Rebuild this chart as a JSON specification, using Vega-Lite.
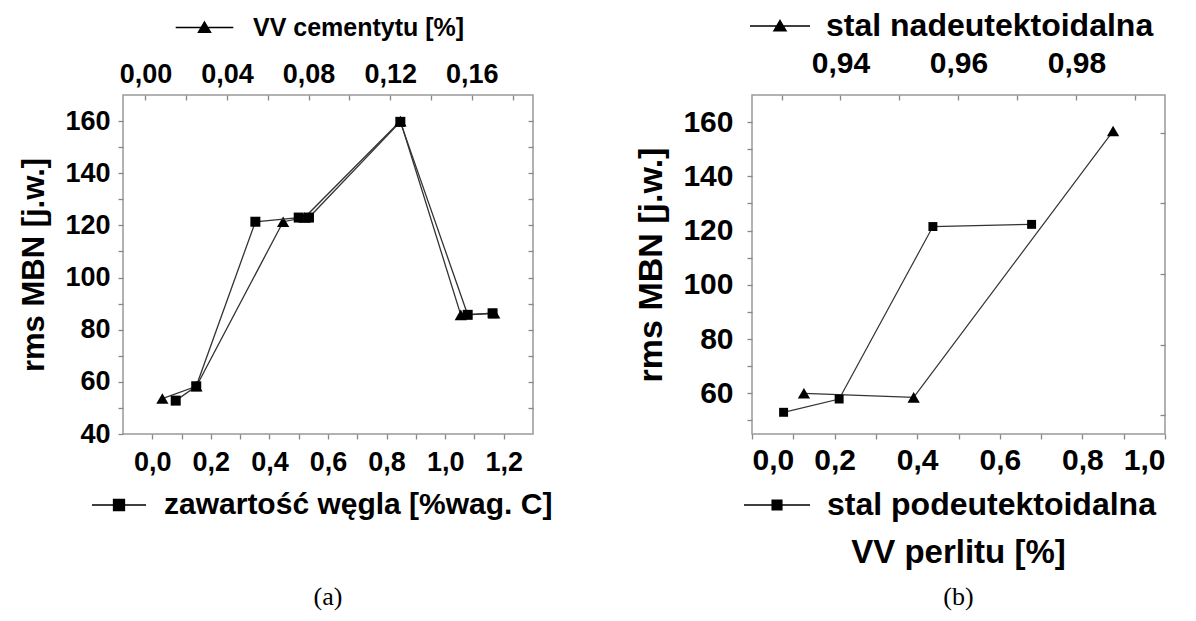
{
  "$schema": "https://vega.github.io/schema/vega-lite/v6.json",
  "background": "white",
  "padding": {"left": 18, "top": 9, "right": 5, "bottom": 5},
  "datasets": {
    "a_tri": [{"vc":0.0083,"rms":53.6},{"vc":0.025,"rms":58.3},{"vc":0.0675,"rms":121.4},{"vc":0.078,"rms":123},{"vc":0.125,"rms":160},{"vc":0.1546,"rms":85.7},{"vc":0.171,"rms":86.3}],
    "a_sq": [{"c":0.08,"rms":52.8},{"c":0.15,"rms":58.3},{"c":0.352,"rms":121.4},{"c":0.5,"rms":123},{"c":0.535,"rms":123},{"c":0.847,"rms":159.7},{"c":1.077,"rms":85.7},{"c":1.162,"rms":86.3}],
    "b_sq": [{"vp":0.0765,"rms":53},{"vp":0.211,"rms":57.9},{"vp":0.438,"rms":121.5},{"vp":0.677,"rms":122.3}],
    "b_tri": [{"vpt":0.9338,"rms":60},{"vpt":0.9524,"rms":58.5},{"vpt":0.9862,"rms":156.7}]
  },
  "bounds": "flush",
  "spacing": 219,
  "hconcat": [
    {
      "width": 410,
      "height": 339,
      "title": {"text": "(a)", "orient": "bottom", "anchor": "middle", "font": "Liberation Serif", "fontSize": 26, "fontWeight": "normal", "color": "black", "offset": 64},
      "layer": [
        {
          "data": {"name": "a_tri"},
          "encoding": {
            "x": {"field": "vc", "type": "quantitative", "scale": {"domain": [-0.011, 0.19], "nice": false, "zero": false},
              "axis": {"orient": "top", "title": null, "values": [0,0.02,0.04,0.06,0.08,0.1,0.12,0.14,0.16,0.18], "labelExpr": "round(datum.value*100) % 4 == 0 ? replace(format(datum.value, '.2f'), '.', ',') : ''", "tickSize": -5, "labelPadding": 12, "labelFontSize": 27, "labelOverlap": false, "domain": false}},
            "y": {"field": "rms", "type": "quantitative", "scale": {"domain": [40, 170], "nice": false, "zero": false},
              "axis": {"orient": "left", "title": "rms MBN [j.w.]", "titleFontSize": 31, "titlePadding": 14, "values": [40,50,60,70,80,90,100,110,120,130,140,150,160], "labelExpr": "datum.value % 20 == 0 ? datum.label : ''", "tickSize": 5, "labelPadding": 8, "labelFontSize": 27, "labelOverlap": false, "domain": false}}
          },
          "layer": [
            {"mark": {"type": "line", "color": "#333333", "strokeWidth": 1.3}},
            {"mark": {"type": "point", "filled": true, "size": 150, "opacity": 1},
              "encoding": {"color": {"datum": "VV cementytu [%]", "scale": {"range": ["black"]},
                "legend": {"orient": "top", "title": null, "labelFont": "Liberation Sans", "labelFontWeight": "bold", "labelFontSize": 25, "labelColor": "black", "labelLimit": 800, "symbolType": "M-4.8,0L4.8,0M0,-0.9L1,0.8L-1,0.8Z", "symbolSize": 144, "symbolStrokeColor": "black", "symbolFillColor": "black", "symbolStrokeWidth": 1.5, "labelOffset": 36, "offset": 19, "padding": 0}}}}
          ]
        },
        {
          "data": {"name": "a_sq"},
          "encoding": {
            "x": {"field": "c", "type": "quantitative", "scale": {"domain": [-0.1, 1.3], "nice": false, "zero": false},
              "axis": {"orient": "bottom", "title": null, "values": [0,0.1,0.2,0.3,0.4,0.5,0.6,0.7,0.8,0.9,1.0,1.1,1.2], "labelExpr": "round(datum.value*10) % 2 == 0 ? replace(format(datum.value, '.1f'), '.', ',') : ''", "tickSize": 5, "labelPadding": 10, "labelFontSize": 27, "labelOverlap": false, "domain": false}},
            "y": {"field": "rms", "type": "quantitative", "scale": {"domain": [40, 170], "nice": false, "zero": false},
              "axis": {"orient": "right", "title": null, "labels": false, "values": [50,60,70,80,90,100,110,120,130,140,150,160], "tickSize": -5, "domain": false}}
          },
          "layer": [
            {"mark": {"type": "line", "color": "#333333", "strokeWidth": 1.3}},
            {"mark": {"type": "square", "filled": true, "size": 100, "opacity": 1},
              "encoding": {"color": {"datum": "zawartość węgla [%wag. C]", "scale": {"range": ["black"]},
                "legend": {"orient": "bottom", "title": null, "labelFont": "Liberation Sans", "labelFontWeight": "bold", "labelFontSize": 30, "labelColor": "black", "labelLimit": 800, "symbolType": "M-4.5,0L4.5,0M-0.9,-0.9L0.9,-0.9L0.9,0.9L-0.9,0.9Z", "symbolSize": 144, "symbolStrokeColor": "black", "symbolFillColor": "black", "symbolStrokeWidth": 1.5, "labelOffset": 30, "offset": 15, "padding": 0}}}}
          ]
        }
      ],
      "resolve": {"scale": {"x": "independent", "color": "independent"}, "axis": {"x": "independent", "y": "independent"}, "legend": {"color": "independent"}}
    },
    {
      "width": 413,
      "height": 339,
      "title": {"text": "VV perlitu [%]", "subtitle": "(b)", "orient": "bottom", "anchor": "middle", "font": "Liberation Sans", "fontSize": 33, "fontWeight": "bold", "color": "black", "subtitleFont": "Liberation Serif", "subtitleFontSize": 26, "subtitleFontWeight": "normal", "subtitleColor": "black", "subtitlePadding": 14, "offset": 16},
      "layer": [
        {
          "data": {"name": "b_tri"},
          "encoding": {
            "x": {"field": "vpt", "type": "quantitative", "scale": {"domain": [0.925, 0.995], "nice": false, "zero": false},
              "axis": {"orient": "top", "title": null, "values": [0.93,0.94,0.95,0.96,0.97,0.98,0.99], "labelExpr": "round(datum.value*100) % 2 == 0 ? replace(format(datum.value, '.2f'), '.', ',') : ''", "tickSize": -5, "labelPadding": 22, "labelFontSize": 30, "labelOverlap": false, "domain": false}},
            "y": {"field": "rms", "type": "quantitative", "scale": {"domain": [45, 170], "nice": false, "zero": false},
              "axis": {"orient": "left", "title": "rms MBN [j.w.]", "titleFontSize": 34, "titlePadding": 14, "values": [50,60,70,80,90,100,110,120,130,140,150,160], "labelExpr": "datum.value % 20 == 0 ? datum.label : ''", "tickSize": 5, "labelPadding": 14, "labelFontSize": 30, "labelOverlap": false, "domain": false}}
          },
          "layer": [
            {"mark": {"type": "line", "color": "#333333", "strokeWidth": 1.2}},
            {"mark": {"type": "point", "filled": true, "size": 150, "opacity": 1},
              "encoding": {"color": {"datum": "stal nadeutektoidalna", "scale": {"range": ["black"]},
                "legend": {"orient": "top", "title": null, "labelFont": "Liberation Sans", "labelFontWeight": "bold", "labelFontSize": 32, "labelColor": "black", "labelLimit": 800, "symbolType": "M-5,0L5,0M0,-0.9L1,0.8L-1,0.8Z", "symbolSize": 144, "symbolStrokeColor": "black", "symbolFillColor": "black", "symbolStrokeWidth": 1.5, "labelOffset": 30, "offset": 6, "padding": 0}}}}
          ]
        },
        {
          "data": {"name": "b_sq"},
          "encoding": {
            "x": {"field": "vp", "type": "quantitative", "scale": {"domain": [0, 1.0], "nice": false, "zero": false},
              "axis": {"orient": "bottom", "title": null, "values": [0,0.1,0.2,0.3,0.4,0.5,0.6,0.7,0.8,0.9,1.0], "labelExpr": "round(datum.value*10) % 2 == 0 ? replace(format(datum.value, '.1f'), '.', ',') : ''", "tickSize": 5, "labelPadding": 6, "labelFontSize": 30, "labelOverlap": false, "domain": false}},
            "y": {"field": "rms", "type": "quantitative", "scale": {"domain": [45, 170], "nice": false, "zero": false},
              "axis": {"orient": "right", "title": null, "labels": false, "values": [52,78,104,130,156], "tickSize": -5, "domain": false}}
          },
          "layer": [
            {"mark": {"type": "line", "color": "#333333", "strokeWidth": 1.2}},
            {"mark": {"type": "square", "filled": true, "size": 80, "opacity": 1},
              "encoding": {"color": {"datum": "stal podeutektoidalna", "scale": {"range": ["black"]},
                "legend": {"orient": "bottom", "title": null, "labelFont": "Liberation Sans", "labelFontWeight": "bold", "labelFontSize": 32, "labelColor": "black", "labelLimit": 800, "symbolType": "M-5.5,0L5.5,0M-0.8,-0.8L0.8,-0.8L0.8,0.8L-0.8,0.8Z", "symbolSize": 144, "symbolStrokeColor": "black", "symbolFillColor": "black", "symbolStrokeWidth": 1.5, "labelOffset": 34, "offset": 14, "padding": 0}}}}
          ]
        }
      ],
      "resolve": {"scale": {"x": "independent", "color": "independent"}, "axis": {"x": "independent", "y": "independent"}, "legend": {"color": "independent"}}
    }
  ],
  "config": {
    "view": {"stroke": "#999999", "strokeWidth": 1.5},
    "axis": {"grid": false, "tickColor": "#888888", "tickWidth": 1.3, "domainColor": "#999999", "labelFont": "Liberation Sans", "labelFontWeight": "bold", "labelColor": "black", "titleFont": "Liberation Sans", "titleFontWeight": "bold", "titleColor": "black"},
    "point": {"shape": "triangle-up"},
    "legend": {"layout": {"anchor": "middle"}}
  }
}
